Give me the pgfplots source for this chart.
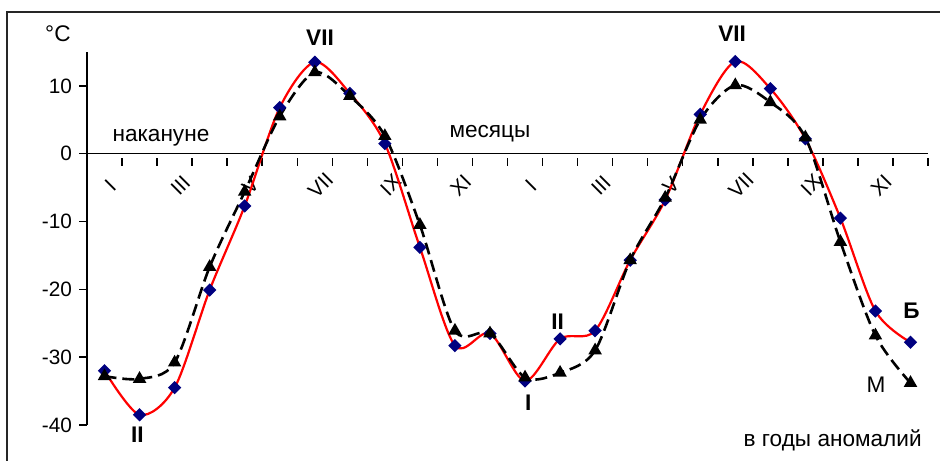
\documentclass[border=0pt]{standalone}
\usepackage{fontspec}
\setmainfont{Liberation Sans}
\usepackage{pgfplots}
\pgfplotsset{compat=1.18}
\definecolor{bred}{RGB}{255,0,0}
\definecolor{bblue}{RGB}{0,0,128}
\begin{document}
\begin{tikzpicture}
\begin{axis}[
 scale only axis, width=420.5pt, height=186.5pt,
 xmin=0, xmax=24, ymin=-40, ymax=15,
 axis x line*=middle, axis y line*=left,
 axis line style={line width=0.75pt, black},
 hide obscured x ticks=false, hide obscured y ticks=false,
 xtick={0,...,24},
 xticklabels={I,,III,,V,,VII,,IX,,XI,,I,,III,,V,,VII,,IX,,XI,,},
 ytick={-40,-30,-20,-10,0,10},
 yticklabels={-40,-30,-20,-10,0,10},
 tick align=outside, major tick length=4pt,
 tick style={line width=0.75pt, black},
 xtick style={yshift=-2pt},
 xticklabel style={rotate=45, anchor=center, yshift=-16.5pt, font=\fontsize{10.4}{12}\selectfont},
 yticklabel style={font=\fontsize{10.4}{12}\selectfont},
 clip=false,
]
\addplot[bred, line width=1.1pt, smooth, mark=square*, mark size=1.8pt,
  mark options={rotate=45, fill=bblue, draw=bblue, solid}] coordinates {
(0.5,-32.0) (1.5,-38.5) (2.5,-34.5) (3.5,-20.1) (4.5,-7.7) (5.5,6.8)
(6.5,13.5) (7.5,8.9) (8.5,1.5) (9.5,-13.8) (10.5,-28.3) (11.5,-26.5)
(12.5,-33.5) (13.5,-27.3) (14.5,-26.1) (15.5,-15.7) (16.5,-6.8) (17.5,5.8)
(18.5,13.6) (19.5,9.6) (20.5,2.2) (21.5,-9.5) (22.5,-23.2) (23.5,-27.8)
};
\addplot[black, line width=1.3pt, dash pattern=on 6pt off 3pt, smooth,
  mark=triangle*, mark size=2.6pt, mark options={solid, fill=black}] coordinates {
(0.5,-32.8) (1.5,-33.2) (2.5,-30.8) (3.5,-16.7) (4.5,-5.6) (5.5,5.5)
(6.5,12.0) (7.5,8.5) (8.5,2.6) (9.5,-10.5) (10.5,-26.1) (11.5,-26.5)
(12.5,-33.0) (13.5,-32.3) (14.5,-29.0) (15.5,-15.7) (16.5,-6.5) (17.5,5.0)
(18.5,10.1) (19.5,7.6) (20.5,2.4) (21.5,-13.0) (22.5,-26.8) (23.5,-33.8)
};
\node[font=\fontsize{11.3}{13}\selectfont] at (axis cs:-0.83,17.7) {°C};
\node[font=\fontsize{11.3}{13}\selectfont\bfseries] at (axis cs:6.65,17.1) {VII};
\node[font=\fontsize{11.3}{13}\selectfont\bfseries] at (axis cs:18.41,17.7) {VII};
\node[font=\fontsize{11.3}{13}\selectfont] at (axis cs:2.11,2.4) {накануне};
\node[font=\fontsize{11.3}{13}\selectfont] at (axis cs:11.5,3.0) {месяцы};
\node[font=\fontsize{11.3}{13}\selectfont\bfseries] at (axis cs:1.44,-41.4) {II};
\node[font=\fontsize{11.3}{13}\selectfont\bfseries] at (axis cs:12.59,-36.7) {I};
\node[font=\fontsize{11.3}{13}\selectfont\bfseries] at (axis cs:13.43,-24.7) {II};
\node[font=\fontsize{11.3}{13}\selectfont\bfseries] at (axis cs:23.53,-23.1) {Б};
\node[font=\fontsize{11.3}{13}\selectfont] at (axis cs:22.52,-34.1) {М};
\node[font=\fontsize{11.3}{13}\selectfont] at (axis cs:21.28,-42.2) {в годы аномалий};
\draw[line width=1pt, black!85] (rel axis cs:-0.0951,-0.3) -- (rel axis cs:-0.0951,1.10724) -- (rel axis cs:1.2,1.10724);
\coordinate (bbl) at (rel axis cs:-0.10345,-0.09651);
\coordinate (btr) at (rel axis cs:1.01427,1.13941);
\end{axis}
\pgfresetboundingbox
\path[use as bounding box] (bbl) rectangle (btr);
\end{tikzpicture}
\end{document}
